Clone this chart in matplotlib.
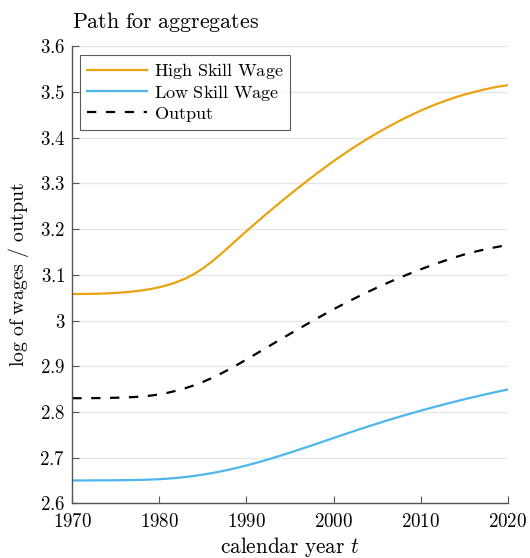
import matplotlib
matplotlib.use("Agg")
import matplotlib.pyplot as plt
from matplotlib.ticker import FuncFormatter, MultipleLocator

years = list(range(1970, 2021))
high_skill = [3.0580, 3.0581, 3.0583, 3.0587, 3.0593, 3.0603, 3.0618, 3.0636, 3.0659, 3.0689,
              3.0728, 3.0778, 3.0841, 3.0919, 3.1019, 3.1142, 3.1285, 3.1444, 3.1613, 3.1785,
              3.1955, 3.2122, 3.2286, 3.2447, 3.2605, 3.2760, 3.2912, 3.3061, 3.3207, 3.3349,
              3.3487, 3.3620, 3.3748, 3.3871, 3.3989, 3.4102, 3.4210, 3.4313, 3.4411, 3.4504,
              3.4592, 3.4674, 3.4750, 3.4820, 3.4884, 3.4942, 3.4994, 3.5041, 3.5083, 3.5121,
              3.5150]
output = [2.8300, 2.8300, 2.8301, 2.8303, 2.8306, 2.8310, 2.8316, 2.8325, 2.8338, 2.8357,
          2.8385, 2.8421, 2.8466, 2.8520, 2.8583, 2.8656, 2.8739, 2.8831, 2.8931, 2.9037,
          2.9147, 2.9259, 2.9372, 2.9485, 2.9597, 2.9708, 2.9818, 2.9927, 3.0035, 3.0141,
          3.0245, 3.0346, 3.0444, 3.0539, 3.0631, 3.0720, 3.0806, 3.0889, 3.0969, 3.1046,
          3.1120, 3.1191, 3.1259, 3.1324, 3.1386, 3.1445, 3.1495, 3.1540, 3.1581, 3.1618,
          3.1652]
low_skill = [2.6500, 2.6500, 2.6501, 2.6502, 2.6503, 2.6505, 2.6507, 2.6510, 2.6514, 2.6520,
             2.6528, 2.6540, 2.6556, 2.6576, 2.6600, 2.6628, 2.6660, 2.6696, 2.6736, 2.6780,
             2.6828, 2.6879, 2.6933, 2.6990, 2.7049, 2.7110, 2.7172, 2.7235, 2.7299, 2.7364,
             2.7429, 2.7494, 2.7558, 2.7621, 2.7683, 2.7744, 2.7804, 2.7862, 2.7918, 2.7973,
             2.8027, 2.8079, 2.8130, 2.8180, 2.8228, 2.8275, 2.8321, 2.8365, 2.8408, 2.8450,
             2.8490]
labels = ["High Skill Wage", "Low Skill Wage", "Output"]

plt.rcParams['mathtext.fontset'] = 'cm'
plt.rcParams['font.family'] = 'serif'

def m(s):
    return r'$\mathrm{' + s.replace(' ', r'\ ') + '}$'

fig = plt.figure(figsize=(5.30, 5.58), dpi=100)
ax = fig.add_axes([0.1364, 0.098, 0.958 - 0.1364, 0.917 - 0.098])

ax.plot(years, high_skill, color='#EAA30E', lw=1.6, label=m(labels[0]))
ax.plot(years, low_skill, color='#4DB6EC', lw=1.6, label=m(labels[1]))
ax.plot(years, output, color='black', lw=1.6, ls=(0, (4.2, 4.3)), label=m(labels[2]))

ax.set_xlim(1970, 2020)
ax.set_ylim(2.6, 3.6)
ax.xaxis.set_major_locator(MultipleLocator(10))
ax.yaxis.set_major_locator(MultipleLocator(0.1))

def yfmt(v, p):
    s = f"{v:.1f}"
    if s.endswith(".0"):
        s = s[:-2]
    return m(s)

ax.yaxis.set_major_formatter(FuncFormatter(yfmt))
ax.xaxis.set_major_formatter(FuncFormatter(lambda v, p: m(f"{int(round(v))}")))

ax.grid(axis='y', color='#e6e6e6', lw=1.0)
ax.set_axisbelow(True)
for s in ['top', 'right']:
    ax.spines[s].set_visible(False)
for s in ['left', 'bottom']:
    ax.spines[s].set_color('#555555')
    ax.spines[s].set_linewidth(1.0)
ax.tick_params(direction='in', length=5, color='#555555', labelsize=13.6)
ax.tick_params(axis='x', pad=7)
ax.tick_params(axis='y', pad=5)

ax.set_xlabel(m('calendar year') + r' $t$', fontsize=15.3, labelpad=3)
ax.set_ylabel(m('log of wages / output'), fontsize=14.3, labelpad=6)
ax.set_title(m('Path for aggregates'), fontsize=15.8, loc='left', pad=13)

leg = ax.legend(loc='upper left', fontsize=13.1, frameon=True, fancybox=False,
                edgecolor='#333333', handlelength=3.3, borderaxespad=0.45,
                labelspacing=0.1, handletextpad=0.4, borderpad=0.35)
leg.get_frame().set_linewidth(0.8)

fig.savefig('out.png', dpi=100)
